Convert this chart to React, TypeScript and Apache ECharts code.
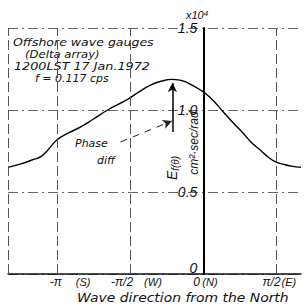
import React, { useEffect, useRef } from "react";
import * as echarts from "echarts";

// Direction in units of pi, energy density (x10^4 cm^2·sec/rad)
const directions: number[] = [-1.333, -1.245, -1.17, -1.109, -1.061, -1.0, -0.92, -0.837, -0.75, -0.653, -0.517, -0.44, -0.361, -0.29, -0.211, -0.15, -0.109, -0.02, 0.048, 0.129, 0.2, 0.272, 0.33, 0.388, 0.44, 0.49, 0.55, 0.6, 0.667];
const energy: number[] = [0.65, 0.671, 0.695, 0.716, 0.756, 0.817, 0.86, 0.897, 0.945, 1.0, 1.065, 1.11, 1.152, 1.175, 1.187, 1.18, 1.167, 1.122, 1.075, 0.996, 0.925, 0.858, 0.8, 0.756, 0.715, 0.685, 0.668, 0.658, 0.65];

const xTickValues: number[] = [-1, -0.5, 0, 0.5];
const xTickSymbols: string[] = ["-π", "-π/2", "0", "π/2"];
const xTickDirections: string[] = ["(S)", "(W)", "(N)", "(E)"];
const yTickLabels: Record<string, string> = { "0": "{z|0}", "0.5": "0.5", "1": "1.0", "1.5": "1.5" };
const verticalGridValues: number[] = [-1.3333, -1, -0.5, 0.5, 0.6667];

// annotation coordinates in data space
const peakArrow: [number, number][] = [[-0.211, 0.866], [-0.211, 1.165]];
const phaseLeader: [number, number][] = [[-0.565, 0.805], [-0.215, 0.933]];

// label offsets (px) from each tick: [symbol start, direction start]
const xLabelOffsets: [number, number][] = [[-7, 19], [-19, 14], [-10, -1], [-14, 5]];

const FONT = "Liberation Sans";
const FONT2 = "DejaVu Sans";
const GRID_LEFT = 8;
const GRID_RIGHT = 6;
const X_MIN = -4 / 3;
const X_MAX = 2 / 3;

export default function App() {
  const ref = useRef<HTMLDivElement>(null);
  useEffect(() => {
    if (!ref.current) return;
    const chart = echarts.init(ref.current, undefined, { renderer: "svg" });
    const pts = directions.map((d, i) => [d, energy[i]]);
    const gridWidth = 307 - GRID_LEFT - GRID_RIGHT;
    const zeroOffset = (gridWidth * (0 - X_MIN)) / (X_MAX - X_MIN);
    chart.setOption({
      animation: false,
      backgroundColor: "#fff",
      grid: { left: GRID_LEFT, right: GRID_RIGHT, top: 28, bottom: 34, outerBoundsMode: "none", containLabel: false },
      xAxis: {
        type: "value",
        min: X_MIN,
        max: X_MAX,
        axisLine: { onZero: true, lineStyle: { color: "#111", width: 1.5 } },
        axisTick: { show: false },
        splitLine: { show: false },
        axisLabel: { show: false },
      },
      yAxis: {
        type: "value",
        min: 0,
        max: 1.5,
        interval: 0.5,
        position: "left",
        offset: -zeroOffset,
        axisLine: { show: true, onZero: false, lineStyle: { color: "#000", width: 2 } },
        axisTick: { show: false },
        axisLabel: {
          margin: 6,
          fontFamily: FONT,
          fontStyle: "italic",
          fontSize: 14,
          color: "#111",
          formatter: (v: number) => yTickLabels[String(v)] ?? "",
          rich: { z: { fontFamily: FONT, fontStyle: "italic", fontSize: 14, color: "#111", padding: [0, 0, 12, 0] } },
        },
        splitLine: { show: true, lineStyle: { color: "#666", type: [10, 4, 2, 4], width: 1 } },
      },
      series: [
        {
          type: "line",
          data: pts,
          smooth: true,
          showSymbol: false,
          silent: true,
          lineStyle: { color: "#000", width: 1.4 },
          markLine: {
            silent: true,
            symbol: "none",
            label: { show: false },
            lineStyle: { color: "#555", type: [10, 4], width: 1 },
            data: verticalGridValues.map((v) => ({ xAxis: v })),
          },
          z: 3,
        },
        {
          type: "line",
          data: pts,
          showSymbol: false,
          silent: true,
          lineStyle: { width: 0, opacity: 0 },
          markLine: {
            silent: true,
            symbol: ["none", "arrow"],
            symbolSize: [7, 9],
            label: { show: false },
            data: [
              [
                { coord: peakArrow[0], lineStyle: { color: "#000", width: 1.5, type: "solid" } },
                { coord: peakArrow[1] },
              ],
              [
                { coord: phaseLeader[0], lineStyle: { color: "#222", width: 1, type: [7, 6] } },
                { coord: phaseLeader[1] },
              ],
            ],
          },
        },
      ],
    });

    const baseY = chart.convertToPixel({ yAxisIndex: 0 }, 0) as number;
    const tickTexts: any[] = [];
    xTickValues.forEach((v, i) => {
      const px = chart.convertToPixel({ xAxisIndex: 0 }, v) as number;
      tickTexts.push({
        type: "text",
        x: px + xLabelOffsets[i][0],
        y: baseY + 8,
        style: { text: xTickSymbols[i], font: `italic 12px "${FONT}"`, fill: "#111", align: "left", verticalAlign: "middle" },
      });
      tickTexts.push({
        type: "text",
        x: px + xLabelOffsets[i][1],
        y: baseY + 8,
        style: { text: xTickDirections[i], font: `italic 11px "${FONT}"`, fill: "#111", align: "left", verticalAlign: "middle" },
      });
    });

    const txt = (text: string, x: number, y: number, size: number, sx: number, font = FONT2) => ({
      type: "text",
      x,
      y,
      scaleX: sx,
      style: { text, font: `oblique ${size}px "${font}"`, fill: "#111", align: "left", verticalAlign: "middle" },
    });

    chart.setOption({
      graphic: [
        ...tickTexts,
        txt("Offshore wave gauges", 13, 42, 11, 1.14),
        txt("(Delta array)", 25, 54, 11, 1.06),
        txt("1200LST 17 Jan.1972", 14, 66, 11, 1.16),
        txt("f = 0.117 cps", 35, 78, 11, 1.0),
        txt("Phase", 75, 143, 11, 1.0),
        txt("diff", 97, 160, 11, 1.0),
        txt("Wave direction from the North", 77, 298, 12, 1.16),
        {
          type: "text",
          x: 186,
          y: 15,
          style: {
            text: "x10{s|4}",
            font: `italic 11px "${FONT}"`,
            fill: "#111",
            align: "left",
            verticalAlign: "middle",
            rich: { s: { fontSize: 8, verticalAlign: "top", fontStyle: "italic", fontFamily: FONT } },
          },
        },
        {
          type: "text",
          x: 172,
          y: 168,
          rotation: Math.PI / 2,
          style: {
            text: "E{s|f(θ)}",
            font: `italic 14px "${FONT}"`,
            fill: "#111",
            align: "center",
            verticalAlign: "middle",
            rich: { s: { fontSize: 10, fontStyle: "italic", fontFamily: FONT, padding: [6, 0, 0, 0] } },
          },
        },
        {
          type: "text",
          x: 194,
          y: 143,
          rotation: Math.PI / 2,
          style: {
            text: "cm²·sec/rad",
            font: `italic 12px "${FONT}"`,
            fill: "#111",
            align: "center",
            verticalAlign: "middle",
          },
        },
      ],
    });
    return () => chart.dispose();
  }, []);
  return (
    <div
      ref={ref}
      style={{ position: "absolute", left: 0, top: 0, width: 307, height: 308, background: "#fff" }}
    />
  );
}
